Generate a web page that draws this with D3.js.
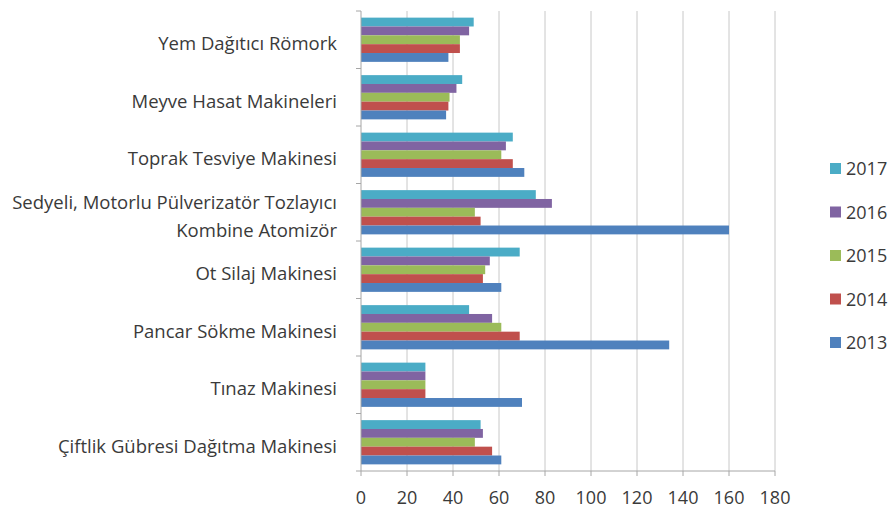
<!DOCTYPE html>
<html>
<head>
<meta charset="utf-8">
<script src="https://cdn.jsdelivr.net/npm/d3@7"></script>
<style>
  body { margin: 0; background: #fff; }
  text { font-family: "Open Sans", sans-serif; fill: #3a3a3a; }
</style>
</head>
<body>
<svg id="chart"></svg>
<script>
// categories top to bottom
const categories = [
  'Yem Dağıtıcı Römork',
  'Meyve Hasat Makineleri',
  'Toprak Tesviye Makinesi',
  'Sedyeli, Motorlu Pülverizatör Tozlayıcı|Kombine Atomizör',
  'Ot Silaj Makinesi',
  'Pancar Sökme Makinesi',
  'Tınaz Makinesi',
  'Çiftlik Gübresi Dağıtma Makinesi'
]
const years = ['2017', '2016', '2015', '2014', '2013']
const v2013 = [38, 37, 71, 160, 61, 134, 70, 61]
const v2014 = [43, 38, 66, 52, 53, 69, 28, 57]
const v2015 = [43, 38.5, 61, 49.5, 54, 61, 28, 49.5]
const v2016 = [47, 41.5, 63, 83, 56, 57, 28, 53]
const v2017 = [49, 44, 66, 76, 69, 47, 28, 52]
const xTicks = [0, 20, 40, 60, 80, 100, 120, 140, 160, 180]
const colors = { '2013': '#4f81bd', '2014': '#c0504d', '2015': '#9bbb59', '2016': '#8064a2', '2017': '#4bacc6' }

const series = { '2013': v2013, '2014': v2014, '2015': v2015, '2016': v2016, '2017': v2017 }
const data = categories.map((c, i) => {
  const row = { cat: c }
  years.forEach(y => { row[y] = series[y][i] })
  return row
})

const width = 896, height = 510
const margin = { top: 11, right: 121, bottom: 39, left: 361 }
const w = width - margin.left - margin.right
const h = height - margin.top - margin.bottom

const svg = d3.select('#chart').attr('width', width).attr('height', height)
const g = svg.append('g').attr('transform', `translate(${margin.left},${margin.top})`)

const x = d3.scaleLinear().domain([0, 180]).range([0, w])
const y0 = d3.scaleBand().domain(categories).range([0, h])
const y1 = d3.scaleBand().domain(years).range([0, y0.bandwidth()]).paddingOuter(0.75)

// gridlines
g.append('g')
  .selectAll('line')
  .data(xTicks.slice(1))
  .enter().append('line')
  .attr('x1', d => x(d)).attr('x2', d => x(d))
  .attr('y1', 0).attr('y2', h)
  .attr('stroke', '#c8c8c8')
  .attr('stroke-width', 1)

// bars
g.append('g')
  .selectAll('g')
  .data(data)
  .enter().append('g')
  .attr('transform', d => `translate(0,${y0(d.cat)})`)
  .selectAll('rect')
  .data(d => years.map(k => ({ key: k, value: d[k] })))
  .enter().append('rect')
  .attr('x', 0)
  .attr('y', d => y1(d.key))
  .attr('width', d => x(d.value))
  .attr('height', y1.bandwidth())
  .attr('fill', d => colors[d.key])

// y axis line + ticks at band boundaries
const ya = g.append('g')
ya.append('line')
  .attr('x1', 0).attr('x2', 0).attr('y1', 0).attr('y2', h)
  .attr('stroke', '#a6a6a6')
ya.selectAll('.yt')
  .data(d3.range(categories.length + 1))
  .enter().append('line')
  .attr('x1', -5).attr('x2', 0)
  .attr('y1', i => i * y0.step()).attr('y2', i => i * y0.step())
  .attr('stroke', '#a6a6a6')

// category labels
ya.selectAll('.lbl')
  .data(categories)
  .enter().append('text')
  .attr('text-anchor', 'end')
  .attr('font-size', 18.5)
  .each(function (d) {
    const lines = d.split('|')
    const cy = y0(d) + y0.bandwidth() / 2 + 4
    const t = d3.select(this)
    lines.forEach((l, i) => {
      t.append('tspan')
        .attr('x', -24)
        .attr('y', cy + (i - (lines.length - 1) / 2) * 28)
        .attr('dy', '0.35em')
        .text(l)
    })
  })

// x axis
const xa = g.append('g').attr('transform', `translate(0,${h})`)
xa.append('line').attr('x1', 0).attr('x2', w).attr('stroke', '#a6a6a6')
xa.selectAll('.xt')
  .data(xTicks)
  .enter().append('line')
  .attr('x1', d => x(d)).attr('x2', d => x(d))
  .attr('y1', 0).attr('y2', 5)
  .attr('stroke', '#a6a6a6')
xa.selectAll('.xl')
  .data(xTicks)
  .enter().append('text')
  .attr('x', d => x(d))
  .attr('y', 27)
  .attr('dy', '0.35em')
  .attr('text-anchor', 'middle')
  .attr('font-size', 18)
  .text(d => d)

// legend
const lg = svg.append('g').attr('transform', 'translate(830,168)')
years.forEach((yr, i) => {
  const row = lg.append('g').attr('transform', `translate(0,${i * 43.5})`)
  row.append('rect').attr('x', 0).attr('y', -5).attr('width', 11).attr('height', 11).attr('fill', colors[yr])
  row.append('text').attr('x', 16).attr('y', 1).attr('dy', '0.35em').attr('font-size', 18).text(yr)
})
</script>
</body>
</html>
